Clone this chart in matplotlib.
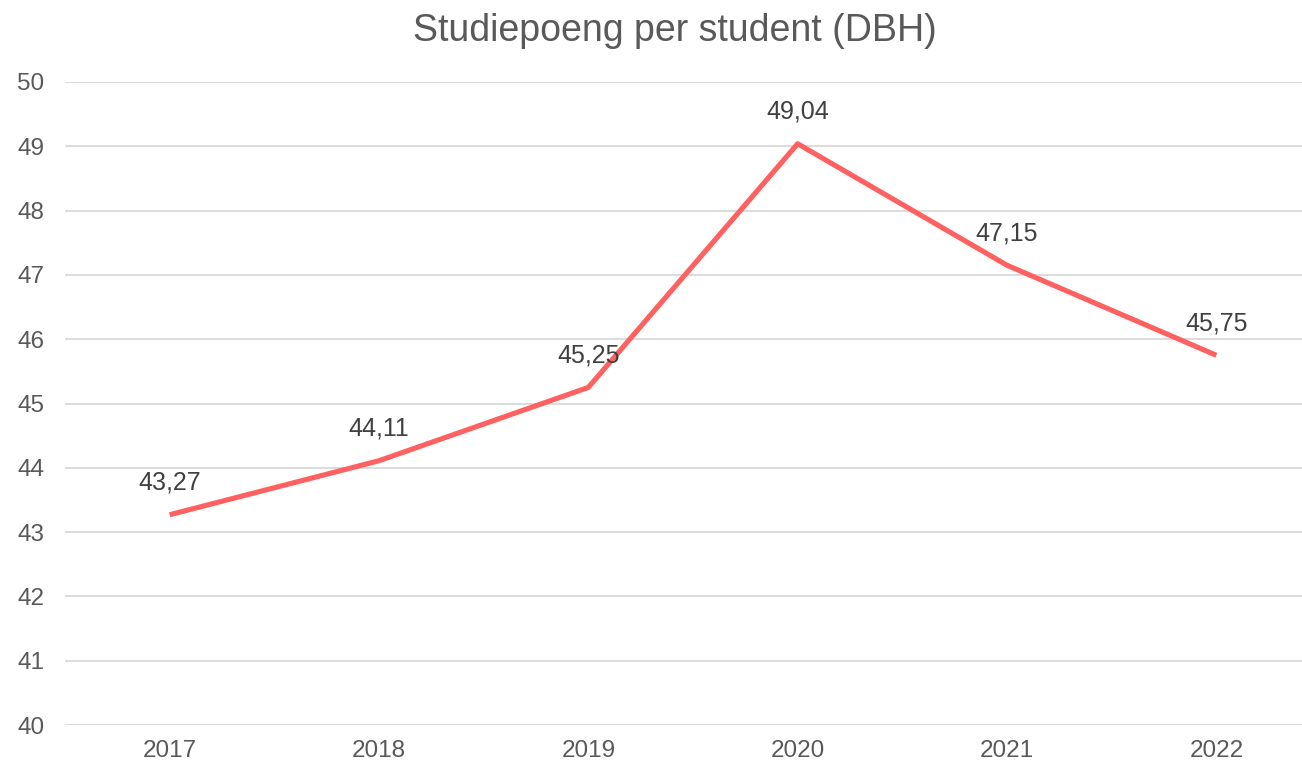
import matplotlib.pyplot as plt

years = ["2017", "2018", "2019", "2020", "2021", "2022"]
poeng = [43.27, 44.11, 45.25, 49.04, 47.15, 45.75]

plt.rcParams['font.family'] = ['Liberation Sans', 'DejaVu Sans']

fig = plt.figure(figsize=(13.02, 7.62), dpi=100)
w = (1321 - 65) / 1302
ax = fig.add_axes([65 / 1302, 1 - 725 / 762, w, (725 - 82) / 762])

x = list(range(len(years)))
ax.plot(x, poeng, color='#FF6161', linewidth=3.7, solid_capstyle='butt', zorder=3)

for xi, v in zip(x, poeng):
    ax.annotate(f"{v:.2f}".replace('.', ','), (xi, v), xytext=(0, 23),
                textcoords='offset points', ha='center', va='center',
                fontsize=18, color='#404040', zorder=4)

ax.set_xlim(-0.5, len(years) - 0.5)
ax.set_ylim(40, 50)
ax.set_yticks(range(40, 51))
ax.set_xticks(x)
ax.set_xticklabels(years)
ax.yaxis.grid(True, color='#D9D9D9', linewidth=1.3)
ax.set_axisbelow(True)
for s in ax.spines.values():
    s.set_visible(False)
ax.tick_params(length=0, labelsize=17.5, colors='#595959')
ax.tick_params(axis='y', pad=15)
ax.tick_params(axis='x', pad=11)

fig.text(675 / 1302, 1 - 31 / 762, "Studiepoeng per student (DBH)", ha='center',
         va='center', fontsize=27, color='#595959')

fig.savefig("out.png", dpi=100)
